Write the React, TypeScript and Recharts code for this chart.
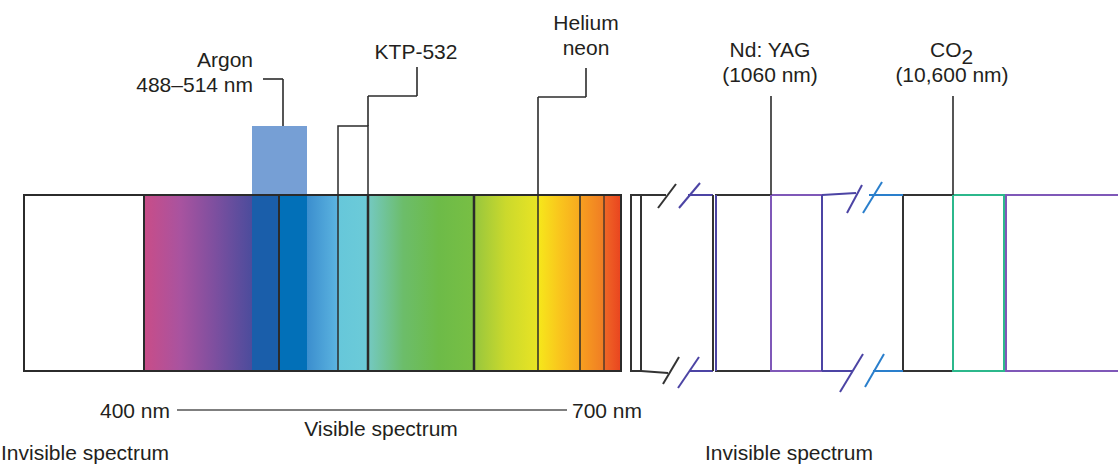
import React from 'react';
import { ComposedChart, XAxis, YAxis, ReferenceArea, ReferenceLine, Scatter } from 'recharts';

// Diagram units: x runs along the strip (0..1118), y runs downward (0..464)
const bandTop = 195;
const bandBottom = 371;

// Visible spectrum strip: band edges and the invisible (UV) box on the left
const uvBox = [24, 144];
const visibleEdges = [144, 252, 279, 307, 338, 368, 474, 538, 580, 604, 621];
const dividerX = [144, 279, 338, 368, 474, 538, 580, 604];
const dividerWeight = [2, 2, 1.5, 2.5, 2.5, 1.5, 1.5, 1.2];

// Laser bars above the strip
const argonBar = [252, 307, 126];
const ktpBox = [338, 368, 126];

// Leader lines (polylines)
const argonLeader = [[263, 79], [283, 79], [283, 126]];
const ktpLeader = [[368, 126], [368, 96], [417, 96], [417, 67]];
const heneLeader = [[538, 195], [538, 97], [586, 97], [586, 68]];
const ndyagLeader = [[771, 96], [771, 195]];
const co2Leader = [[953, 96], [953, 195]];

// Infrared boxes (x1, x2, kind)
const irBoxes: [number, number, string][] = [
  [631, 641, 'k'],
  [716, 771, 'k'],
  [771, 822, 'p'],
  [903, 953, 'k'],
  [953, 1004, 'g'],
  [1006, 1140, 'p'],
];

// Open edges between the broken sections [x1, y1, x2, y2, kind]
const irEdges: [number, number, number, number, string][] = [
  [641, 195, 666, 195, 'k'],
  [641, 371, 668, 373, 'k'],
  [688, 195, 713, 195, 'd'],
  [690, 371, 713, 371, 'd'],
  [713, 195, 713, 371, 'k'],
  [716, 195, 716, 371, 'd'],
  [771, 195, 771, 371, 'p'],
  [822, 195, 822, 371, 'd'],
  [822, 195, 856, 193, 'd'],
  [822, 371, 852, 371, 'd'],
  [869, 195, 903, 195, 'b'],
  [873, 371, 903, 371, 'b'],
];

// Break marks
const breakMarks: [number, number, number, number, string][] = [
  [658, 208, 676, 184, 'k'],
  [679, 208, 700, 183, 'd'],
  [663, 384, 679, 357, 'k'],
  [678, 388, 699, 357, 'd'],
  [847, 213, 862, 185, 'd'],
  [863, 213, 882, 182, 'b'],
  [840, 392, 863, 354, 'd'],
  [865, 387, 884, 354, 'b'],
];

// Visible-range scale line
const scaleLine = [177, 567, 410];

// Text labels
const labels = [
  { x: 253, y: 67, text: 'Argon', anchor: 'end' },
  { x: 253, y: 92, text: '488–514 nm', anchor: 'end' },
  { x: 416, y: 59, text: 'KTP-532', anchor: 'middle' },
  { x: 586, y: 30, text: 'Helium', anchor: 'middle' },
  { x: 586, y: 55, text: 'neon', anchor: 'middle' },
  { x: 770, y: 57, text: 'Nd: YAG', anchor: 'middle' },
  { x: 770, y: 82, text: '(1060 nm)', anchor: 'middle' },
  { x: 930, y: 57, text: 'CO', anchor: 'start', sub: '2' },
  { x: 952, y: 82, text: '(10,600 nm)', anchor: 'middle' },
  { x: 170, y: 418, text: '400 nm', anchor: 'end' },
  { x: 572, y: 418, text: '700 nm', anchor: 'start' },
  { x: 381, y: 436, text: 'Visible spectrum', anchor: 'middle' },
  { x: 1, y: 460, text: 'Invisible spectrum', anchor: 'start' },
  { x: 789, y: 460, text: 'Invisible spectrum', anchor: 'middle' },
];

// Styles
const bandGradients = [
  ['#c94d88', '#a9539f', '#7c4f9f', '#4c4c9c'],
  ['#1a5eaa', '#1a5eaa'],
  ['#0270b8', '#0270b8'],
  ['#3b8ece', '#5cb4e0'],
  ['#66c7da', '#6ccbd8'],
  ['#74c9c2', '#6cbd6a', '#6dbb48', '#78bf44'],
  ['#96c63e', '#cbd92c', '#e9e424'],
  ['#f6e81b', '#f9c61d', '#f7a91f'],
  ['#f7a01f', '#f07c24'],
  ['#f06826', '#e9441f'],
];
const ink = '#2b2b2b';
const kindColor: Record<string, string> = {
  k: '#333333',
  p: '#7f58b8',
  d: '#4c44a4',
  g: '#2cb88c',
  b: '#2a7fcc',
};
const FONT = '"Liberation Sans", Arial, Helvetica, sans-serif';

function segs(points: number[][]) {
  const out: { x: number; y: number }[][] = [];
  for (let i = 0; i < points.length - 1; i++) {
    out.push([
      { x: points[i][0], y: points[i][1] },
      { x: points[i + 1][0], y: points[i + 1][1] },
    ]);
  }
  return out;
}

const LabelShape = (props: any) => {
  const { cx, cy, payload } = props;
  return (
    <text
      x={cx}
      y={cy}
      textAnchor={payload.anchor}
      fontFamily={FONT}
      fontSize={21}
      fill="#231f20"
    >
      {payload.text}
      {payload.sub ? <tspan dy={7}>{payload.sub}</tspan> : null}
    </text>
  );
};

export default function App() {
  const leaders = [argonLeader, ktpLeader, heneLeader, ndyagLeader, co2Leader];
  return (
    <div style={{ position: 'absolute', left: 0, top: 0, background: '#fff' }}>
      <ComposedChart width={1118} height={464} margin={{ top: 0, right: 0, bottom: 0, left: 0 }}>
        <defs>
          {bandGradients.map((stops, i) => (
            <linearGradient key={i} id={`band${i}`} x1="0" y1="0" x2="1" y2="0">
              {stops.map((c, j) => (
                <stop key={j} offset={stops.length === 1 ? 0 : j / (stops.length - 1)} stopColor={c} />
              ))}
            </linearGradient>
          ))}
        </defs>
        <XAxis type="number" dataKey="x" domain={[0, 1118]} hide allowDataOverflow />
        <YAxis type="number" dataKey="y" domain={[0, 464]} reversed hide allowDataOverflow />

        {/* Argon bar */}
        <ReferenceArea
          x1={argonBar[0]}
          x2={argonBar[1]}
          y1={argonBar[2]}
          y2={bandTop}
          fill="#769fd5"
          fillOpacity={1}
          stroke="none"
          ifOverflow="visible"
        />
        {/* KTP box */}
        <ReferenceArea
          x1={ktpBox[0]}
          x2={ktpBox[1]}
          y1={ktpBox[2]}
          y2={bandTop}
          fill="#ffffff"
          fillOpacity={1}
          stroke={ink}
          strokeWidth={1.5}
          ifOverflow="visible"
        />

        {/* UV box */}
        <ReferenceArea
          x1={uvBox[0]}
          x2={uvBox[1]}
          y1={bandTop}
          y2={bandBottom}
          fill="#ffffff"
          fillOpacity={1}
          stroke="none"
          ifOverflow="visible"
        />
        {/* Visible bands */}
        {visibleEdges.slice(0, -1).map((x1, i) => (
          <ReferenceArea
            key={`band${i}`}
            x1={x1}
            x2={visibleEdges[i + 1]}
            y1={bandTop}
            y2={bandBottom}
            fill={`url(#band${i})`}
            fillOpacity={1}
            stroke="none"
            ifOverflow="visible"
          />
        ))}
        {/* Strip outline */}
        <ReferenceArea
          x1={uvBox[0]}
          x2={visibleEdges[visibleEdges.length - 1]}
          y1={bandTop}
          y2={bandBottom}
          fill="none"
          stroke={ink}
          strokeWidth={2}
          ifOverflow="visible"
        />
        {dividerX.map((x, i) => (
          <ReferenceLine
            key={`div${i}`}
            segment={[{ x, y: bandTop }, { x, y: bandBottom }]}
            stroke={ink}
            strokeWidth={dividerWeight[i]}
            ifOverflow="visible"
          />
        ))}

        {/* Infrared boxes */}
        {irBoxes.map(([x1, x2, k], i) => (
          <ReferenceArea
            key={`ir${i}`}
            x1={x1}
            x2={x2}
            y1={bandTop}
            y2={bandBottom}
            fill="none"
            stroke={kindColor[k]}
            strokeWidth={2}
            ifOverflow="visible"
          />
        ))}
        {irEdges.map(([x1, y1, x2, y2, k], i) => (
          <ReferenceLine
            key={`ire${i}`}
            segment={[{ x: x1, y: y1 }, { x: x2, y: y2 }]}
            stroke={kindColor[k]}
            strokeWidth={2}
            ifOverflow="visible"
          />
        ))}
        {breakMarks.map(([x1, y1, x2, y2, k], i) => (
          <ReferenceLine
            key={`brk${i}`}
            segment={[{ x: x1, y: y1 }, { x: x2, y: y2 }]}
            stroke={kindColor[k]}
            strokeWidth={2}
            ifOverflow="visible"
          />
        ))}

        {/* Leader lines */}
        {leaders.flatMap((pts, li) =>
          segs(pts).map((s, si) => (
            <ReferenceLine
              key={`ld${li}-${si}`}
              segment={s}
              stroke={ink}
              strokeWidth={1.6}
              ifOverflow="visible"
            />
          ))
        )}

        {/* Visible range scale line */}
        <ReferenceLine
          segment={[{ x: scaleLine[0], y: scaleLine[2] }, { x: scaleLine[1], y: scaleLine[2] }]}
          stroke="#555555"
          strokeWidth={1.5}
          ifOverflow="visible"
        />

        <Scatter data={labels} dataKey="y" shape={LabelShape} isAnimationActive={false} />
      </ComposedChart>
    </div>
  );
}
